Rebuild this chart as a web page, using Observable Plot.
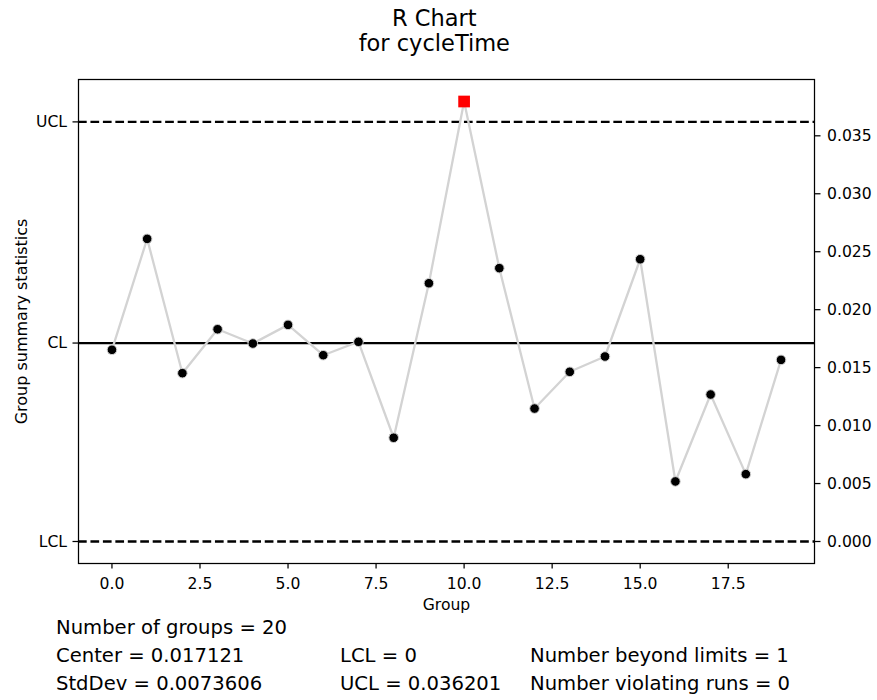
<!DOCTYPE html>
<html><head><meta charset="utf-8">
<script src="https://cdn.jsdelivr.net/npm/d3@7"></script>
<script src="https://cdn.jsdelivr.net/npm/@observablehq/plot@0.6"></script>
<style>
body{margin:0;background:#fff;}
#wrap{position:relative;width:877px;height:700px;font-family:"DejaVu Sans";color:#000;background:#fff;}
#wrap svg{position:absolute;left:0;top:0;}
.t{position:absolute;white-space:pre;}
</style></head><body><div id="wrap"></div>
<script>
const groups = [0,1,2,3,4,5,6,7,8,9,10,11,12,13,14,15,16,17,18,19];
const ranges = [0.01654,0.02611,0.01452,0.01831,0.01708,0.01869,0.01607,0.01723,0.00895,0.02228,
                0.03796,0.02358,0.01147,0.01464,0.01596,0.02435,0.00518,0.01268,0.00581,0.01567];
const CL = 0.017121, LCL = 0, UCL = 0.036201;
const limitLabels = ["LCL","CL","UCL"];
const limitValues = [LCL, CL, UCL];
const rightTicks = [0,0.005,0.010,0.015,0.020,0.025,0.030,0.035];
const xTicks = [0,2.5,5,7.5,10,12.5,15,17.5];
const titleLines = ["R Chart","for cycleTime"];
const xLabel = "Group";
const yLabel = "Group summary statistics";
const statCol1 = ["Number of groups = 20","Center = 0.017121","StdDev = 0.0073606"];
const statCol2 = ["","LCL = 0","UCL = 0.036201"];
const statCol3 = ["","Number beyond limits = 1","Number violating runs = 0"];

const data = groups.map((g,i)=>({g, r: ranges[i], out: ranges[i] > UCL || ranges[i] < LCL}));
const ymax = d3.max([...ranges, UCL]), ymin = Math.min(d3.min(ranges), LCL);
const ypad = (ymax - ymin) * 0.05;
const xmin = d3.min(groups), xmax = d3.max(groups);
const xpad = (xmax - xmin) * 0.05;

const chart = Plot.plot({
  width: 877, height: 620,
  marginLeft: 78, marginRight: 63, marginTop: 79, marginBottom: 57,
  style: {fontFamily: "DejaVu Sans", fontSize: "15.6px", background: "transparent", color: "#000"},
  x: {domain: [xmin - xpad, xmax + xpad]},
  y: {domain: [ymin - ypad, ymax + ypad]},
  marks: [
    Plot.ruleY([UCL, LCL], {stroke: "#000", strokeWidth: 2.3, strokeDasharray: "8.7,3.75"}),
    Plot.ruleY([CL], {stroke: "#000", strokeWidth: 2.3}),
    Plot.line(data, {x: "g", y: "r", stroke: "#d3d3d3", strokeWidth: 2.3}),
    Plot.dot(data.filter(d => !d.out), {x: "g", y: "r", r: 4.8, fill: "#000", stroke: "#d3d3d3", strokeWidth: 1}),
    Plot.dot(data.filter(d => d.out), {x: "g", y: "r", symbol: "square", r: 6.6, fill: "red", stroke: "none"}),
    Plot.frame({stroke: "#000", strokeWidth: 1.25}),
    Plot.axisX({ticks: xTicks, tickFormat: d3.format(".1f"), tickSize: 5.5, tickPadding: 9, strokeWidth: 1.25, label: null}),
    Plot.axisY({anchor: "left", ticks: limitValues, tickFormat: d => limitLabels[limitValues.indexOf(d)], tickSize: 5.5, tickPadding: 6, strokeWidth: 1.25, label: null}),
    Plot.axisY({anchor: "right", ticks: rightTicks, tickFormat: d3.format(".3f"), tickSize: 5.5, tickPadding: 7, strokeWidth: 1.25, label: null}),
    Plot.text([xLabel], {frameAnchor: "bottom", lineAnchor: "middle", textAnchor: "middle", dy: 41, text: d => d, fontSize: 15.6}),
    Plot.text([yLabel], {frameAnchor: "left", lineAnchor: "middle", textAnchor: "middle", dx: -57, rotate: -90, text: d => d, fontSize: 16})
  ]
});
const wrap = document.getElementById("wrap");
wrap.appendChild(chart);

const title = document.createElement("div");
title.className = "t";
Object.assign(title.style, {left: "0px", width: "868.6px", top: "5.7px", textAlign: "center", fontSize: "22.5px", lineHeight: "25px"});
title.textContent = titleLines.join("\n");
wrap.appendChild(title);

const cols = [[statCol1, 56], [statCol2, 340], [statCol3, 530]];
cols.forEach(([lines, x]) => {
  lines.forEach((s, i) => {
    if (!s) return;
    const d = document.createElement("div");
    d.className = "t";
    Object.assign(d.style, {left: x + "px", top: (614.2 + i * 28) + "px", fontSize: "19.6px", lineHeight: "28px"});
    d.textContent = s;
    wrap.appendChild(d);
  });
});
</script></body></html>
